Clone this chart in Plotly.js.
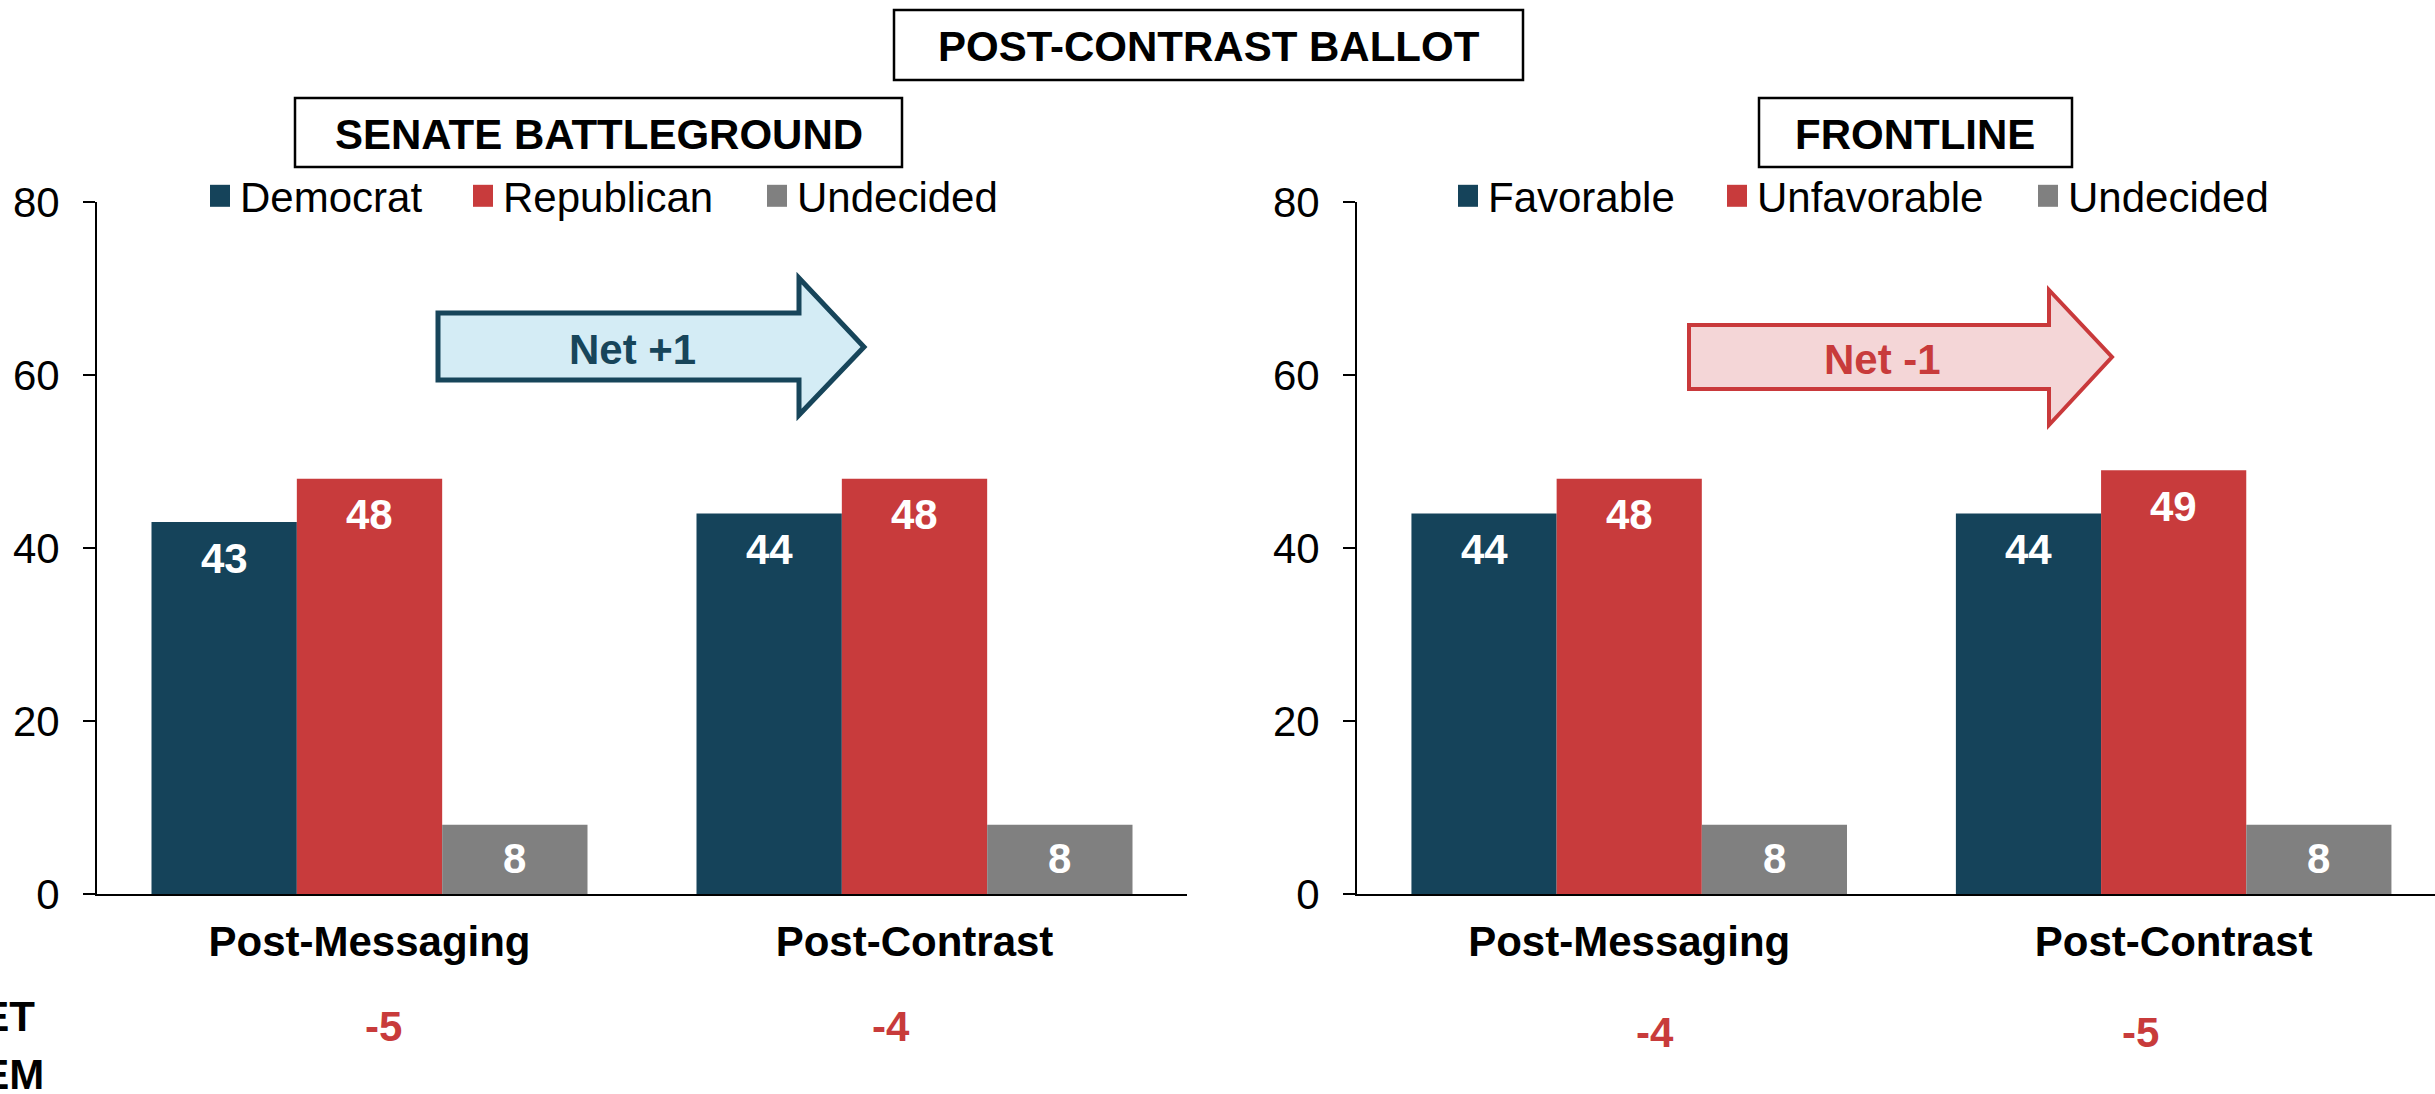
<!DOCTYPE html>
<html><head><meta charset="utf-8">
<script src="https://cdn.plot.ly/plotly-3.0.1.min.js"></script>
<style>html,body{margin:0;padding:0;background:#fff;overflow:hidden;}</style>
</head><body><div id="chart" style="width:2435px;height:1094px;"></div>
<script>
// ---------- data ----------
const categories = ['Post-Messaging', 'Post-Contrast'];
const senateNames = ['Democrat', 'Republican', 'Undecided'];
const senateDem = [43, 44];
const senateRep = [48, 48];
const senateUnd = [8, 8];
const frontNames = ['Favorable', 'Unfavorable', 'Undecided'];
const frontFav = [44, 44];
const frontUnfav = [48, 49];
const frontUnd = [8, 8];
const senateNet = ['-5', '-4'];
const frontNet = ['-4', '-5'];
const yTicks = [0, 20, 40, 60, 80];
const titleText = 'POST-CONTRAST BALLOT';
const panelTitles = ['SENATE BATTLEGROUND', 'FRONTLINE'];
const arrowTexts = ['Net +1', 'Net -1'];
const netRowLabels = ['NET', 'DEM'];

// ---------- style ----------
const W = 2435, H = 1094;
const FONT = 'Liberation Sans, Arial, sans-serif';
const C_DEM = '#15435A', C_REP = '#C83B3C', C_UND = '#808080';
const C_RED = '#C83B3B';
const px = x => x / W;
const py = y => 1 - y / H;
const BARGAP = 0.2;
const barW = (1 - BARGAP) / 3;

const senateSeries = [senateDem, senateRep, senateUnd];
const frontSeries = [frontFav, frontUnfav, frontUnd];
const colors = [C_DEM, C_REP, C_UND];
const senateLW = [218, 249, 210];
const frontLW = [224, 266, 210];

const traces = [];
senateSeries.forEach((vals, i) => traces.push({
  type: 'bar', x: categories, y: vals, name: senateNames[i],
  marker: {color: colors[i], line: {width: 0}},
  xaxis: 'x', yaxis: 'y', legend: 'legend', legendwidth: senateLW[i],
  hoverinfo: 'skip'
}));
frontSeries.forEach((vals, i) => traces.push({
  type: 'bar', x: categories, y: vals, name: frontNames[i],
  marker: {color: colors[i], line: {width: 0}},
  xaxis: 'x2', yaxis: 'y2', legend: 'legend2', legendwidth: frontLW[i],
  hoverinfo: 'skip'
}));

const annotations = [];
// bar value labels
function addLabels(series, xr, yr) {
  series.forEach((vals, s) => {
    vals.forEach((v, c) => {
      const tall = v > 12;
      annotations.push({
        xref: xr, yref: yr, x: c + (s - 1) * barW, y: tall ? v : v / 2,
        yshift: tall ? -36 : 1, text: String(v), showarrow: false,
        xanchor: 'center', yanchor: 'middle',
        font: {family: FONT, size: 42, color: '#FFFFFF', weight: 'bold'}
      });
    });
  });
}
addLabels(senateSeries, 'x', 'y');
addLabels(frontSeries, 'x2', 'y2');

// titles
annotations.push({xref: 'paper', yref: 'paper', x: px(1209), y: py(47), text: titleText,
  showarrow: false, xanchor: 'center', yanchor: 'middle',
  font: {family: FONT, size: 42, color: '#000', weight: 'bold'}});
annotations.push({xref: 'paper', yref: 'paper', x: px(598.5), y: py(134), text: panelTitles[0],
  showarrow: false, xanchor: 'center', yanchor: 'middle',
  font: {family: FONT, size: 42, color: '#000', weight: 'bold'}});
annotations.push({xref: 'paper', yref: 'paper', x: px(1915), y: py(134), text: panelTitles[1],
  showarrow: false, xanchor: 'center', yanchor: 'middle',
  font: {family: FONT, size: 42, color: '#000', weight: 'bold'}});

// arrow texts
annotations.push({xref: 'paper', yref: 'paper', x: px(632), y: py(349), text: arrowTexts[0],
  showarrow: false, xanchor: 'center', yanchor: 'middle',
  font: {family: FONT, size: 42, color: '#17455A', weight: 'bold'}});
annotations.push({xref: 'paper', yref: 'paper', x: px(1882), y: py(359), text: arrowTexts[1],
  showarrow: false, xanchor: 'center', yanchor: 'middle',
  font: {family: FONT, size: 42, color: C_RED, weight: 'bold'}});

// net row
const netShiftL = [14, -24], netShiftR = [26, -33];
senateNet.forEach((t, c) => annotations.push({xref: 'x', yref: 'paper', x: c, xshift: netShiftL[c],
  y: py(1026), text: t, showarrow: false, xanchor: 'center', yanchor: 'middle',
  font: {family: FONT, size: 42, color: C_RED, weight: 'bold'}}));
frontNet.forEach((t, c) => annotations.push({xref: 'x2', yref: 'paper', x: c, xshift: netShiftR[c],
  y: py(1032), text: t, showarrow: false, xanchor: 'center', yanchor: 'middle',
  font: {family: FONT, size: 42, color: C_RED, weight: 'bold'}}));
annotations.push({xref: 'paper', yref: 'paper', x: px(37), y: py(1016), text: netRowLabels[0],
  showarrow: false, xanchor: 'right', yanchor: 'middle',
  font: {family: FONT, size: 42, color: '#000', weight: 'bold'}});
annotations.push({xref: 'paper', yref: 'paper', x: px(46), y: py(1074), text: netRowLabels[1],
  showarrow: false, xanchor: 'right', yanchor: 'middle',
  font: {family: FONT, size: 42, color: '#000', weight: 'bold'}});

// shapes: boxes and arrows
function box(x0, y0, x1, y1) {
  return {type: 'rect', xref: 'paper', yref: 'paper', x0: px(x0), x1: px(x1), y0: py(y1), y1: py(y0),
    line: {color: '#000', width: 2.5}, fillcolor: 'rgba(0,0,0,0)', layer: 'above'};
}
function arrowPath(pts) {
  return 'M' + pts.map(p => px(p[0]) + ',' + py(p[1])).join(' L') + ' Z';
}
const shapes = [
  box(894, 10, 1523, 80),
  box(295, 98, 902, 167),
  box(1759, 98, 2072, 167),
  {type: 'path', xref: 'paper', yref: 'paper', layer: 'below',
   path: arrowPath([[438,313],[799,313],[799,278],[864,347],[799,415],[799,380],[438,380]]),
   fillcolor: '#D4ECF5', line: {color: '#17455A', width: 5}},
  {type: 'path', xref: 'paper', yref: 'paper', layer: 'below',
   path: arrowPath([[1689,325],[2049,325],[2049,290],[2112,357],[2049,425],[2049,389],[1689,389]]),
   fillcolor: '#F4D6D7', line: {color: '#C9393B', width: 4}}
];

const yBase = {
  domain: [1 - 894 / H, 1 - 202 / H], range: [0, 80], tickvals: yTicks,
  ticks: 'outside', ticklen: 12, tickwidth: 2, tickcolor: '#000', ticklabelstandoff: 15,
  showline: true, linecolor: '#000', linewidth: 2, showgrid: false, zeroline: false,
  tickfont: {family: FONT, size: 42, color: '#000'}, fixedrange: true
};
const xBase = {
  type: 'category', showline: true, linecolor: '#000', linewidth: 2, ticks: '',
  showgrid: false, zeroline: false, ticklabelstandoff: 10,
  tickfont: {family: FONT, size: 42, color: '#000', weight: 'bold'}, fixedrange: true
};
const legBase = {
  orientation: 'h', xanchor: 'left', yanchor: 'middle', y: py(196),
  font: {family: FONT, size: 42, color: '#000'}, bgcolor: 'rgba(0,0,0,0)',
  borderwidth: 0, itemwidth: 30, itemclick: false, itemdoubleclick: false
};

const layout = {
  width: W, height: H, margin: {l: 0, r: 0, t: 0, b: 0, pad: 0},
  paper_bgcolor: '#fff', plot_bgcolor: 'rgba(0,0,0,0)',
  barmode: 'group', bargap: BARGAP, bargroupgap: 0,
  showlegend: true,
  xaxis: Object.assign({}, xBase, {domain: [97 / W, 1187 / W], range: [-0.5, 1.5], anchor: 'y'}),
  yaxis: Object.assign({}, yBase, {anchor: 'x'}),
  xaxis2: Object.assign({}, xBase, {domain: [1357 / W, 1], range: [-0.5, 1.48], anchor: 'y2'}),
  yaxis2: Object.assign({}, yBase, {anchor: 'x2'}),
  legend: Object.assign({}, legBase, {x: px(200)}),
  legend2: Object.assign({}, legBase, {x: px(1448)}),
  annotations: annotations,
  shapes: shapes
};

Plotly.newPlot('chart', traces, layout, {displayModeBar: false, staticPlot: true}).then(gd => {
  // enlarge the legend swatches to match the reference squares
  gd.querySelectorAll('.legendpoints path').forEach(p => p.setAttribute('d', 'M10,11H-10V-11H10Z'));
});
</script>
</body></html>
